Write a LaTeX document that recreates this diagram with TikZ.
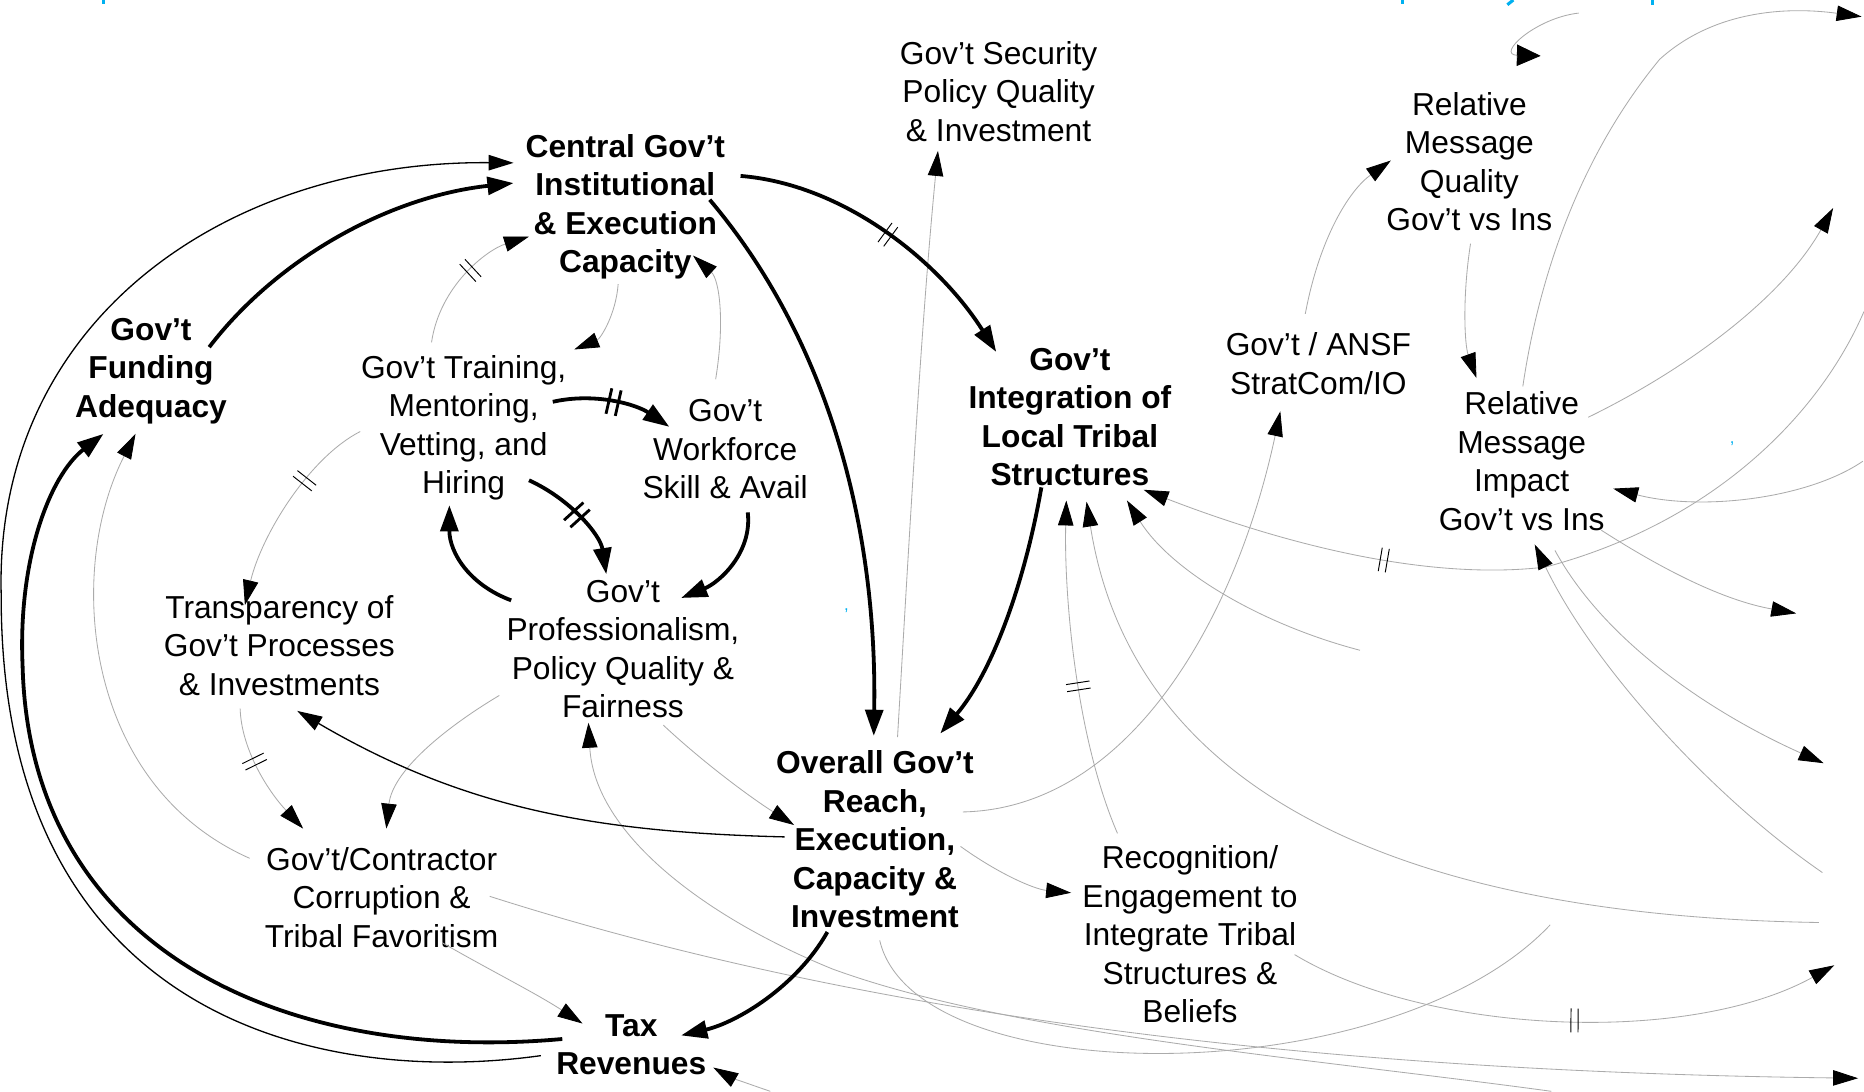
\documentclass[tikz,border=0pt]{standalone}
\usepackage{fontspec}
\setmainfont{Liberation Sans}
\usetikzlibrary{arrows.meta,decorations.markings,calc}
\definecolor{ttl}{RGB}{0,176,240}
\begin{document}
\begin{tikzpicture}[x=1pt,y=-1pt,
  every node/.style={align=center,inner sep=0pt,font=\fontsize{26.7}{32.4}\selectfont},
  keyvar/.style={font=\fontsize{26.7}{32.4}\selectfont\bfseries},
  thk/.style={line width=3.2pt,-{Triangle[length=22pt,width=15pt]}},
  thn/.style={line width=1.1pt,-{Triangle[length=21pt,width=13pt]}},
  gry/.style={draw=black!33,line width=0.7pt,-{Triangle[length=21pt,width=13pt,color=black]}},
  dbar/.style={postaction={decorate,decoration={markings,mark=at position #1 with {\draw[black,line width=0.8pt,-] (-3pt,-10pt)--(-3pt,10pt) (3pt,-10pt)--(3pt,10pt);}}}},
  dbarb/.style={postaction={decorate,decoration={markings,mark=at position #1 with {\draw[black,line width=2.4pt,-] (-4pt,-11pt)--(-4pt,11pt) (4pt,-11pt)--(4pt,11pt);}}}},
  frag/.style={draw=ttl,line width=2.6pt},
  blip/.style={text=ttl,font=\fontsize{14}{14}\selectfont}
]
\fill[white] (0,0) rectangle (1568,918);
\useasboundingbox (0,0) rectangle (1568,918);

% descender strokes of the cut-off blue title, and stray marks
\draw[frag] (87,0) -- (87,3);
\draw[frag] (1180,0) -- (1180,3);
\draw[frag] (1273,0) -- (1268,4);
\draw[frag] (1390,0) -- (1390,4);
\node[blip] (c1) at (712,514) {,};
\node[blip] (c2) at (1457,373) {,};

% nodes
\node[keyvar] (cg) at (526,174) {Central Gov’t\\Institutional\\\& Execution\\Capacity};
\node (sec) at (840,77) {Gov’t Security\\Policy Quality\\\& Investment};
\node[keyvar] (integ) at (900,351) {Gov’t\\Integration of\\Local Tribal\\Structures};
\node (strat) at (1109,306) {Gov’t / ANSF\\StratCom/IO};
\node (qual) at (1236,136) {Relative\\Message\\Quality\\Gov’t vs Ins};
\node (imp) at (1280,388) {Relative\\Message\\Impact\\Gov’t vs Ins};
\node[keyvar] (fund) at (127,312) {Gov’t\\Funding\\Adequacy};
\node (train) at (390,360) {Gov’t Training,\\Mentoring,\\Vetting, and\\Hiring};
\node (work) at (610,378) {Gov’t\\Workforce\\Skill \& Avail};
\node (transp) at (235,543) {Transparency of\\Gov’t Processes\\\& Investments};
\node (prof) at (524,546) {Gov’t\\Professionalism,\\Policy Quality \&\\Fairness};
\node[keyvar] (overall) at (736,706) {Overall Gov’t\\Reach,\\Execution,\\Capacity \&\\Investment};
\node (corr) at (321,755) {Gov’t/Contractor\\Corruption \&\\Tribal Favoritism};
\node (recog) at (1001,786) {Recognition/\\Engagement to\\Integrate Tribal\\Structures \&\\Beliefs};
\node[keyvar] (tax) at (531,879) {Tax\\Revenues};

% free ends at the edge of the crop
\coordinate (topq) at (1328,11);
\coordinate (tr1) at (1566,14);
\coordinate (r1) at (1542,175);
\coordinate (r2) at (1567,388);
\coordinate (r3) at (1568,262);
\coordinate (r4) at (1511,516);
\coordinate (r5) at (1533,734);
\coordinate (r6) at (1534,642);
\coordinate (r7) at (1530,776);
\coordinate (m1) at (1144,547);
\coordinate (r8) at (1543,812);
\coordinate (b1) at (1304,778);
\coordinate (r9) at (1563,907);
\coordinate (b2) at (1305,918);
\coordinate (b3) at (648,918);

% light connectors
\draw[gry,dbar=0.55] ($(train)+(-27,-72)$) .. controls (370,240) and (410,210) .. ($(cg)+(-81,25)$);
\draw[gry] ($(cg)+(-6,65)$) .. controls (518,265) and (505,285) .. ($(train)+(93,-66)$);
\draw[gry] ($(work)+(-8,-59)$) .. controls (610,270) and (605,235) .. ($(cg)+(57,41)$);
\draw[gry,dbar=0.35] ($(train)+(-87,3)$) .. controls (260,385) and (220,450) .. ($(transp)+(-29,-34)$);
\draw[gry,dbar=0.4] ($(transp)+(-33,53)$) .. controls (203,630) and (225,665) .. ($(corr)+(-66,-58)$);
\draw[gry] ($(prof)+(-104,39)$) .. controls (370,615) and (330,650) .. ($(corr)+(4,-58)$);
\draw[gry] ($(corr)+(-111,-33)$) .. controls (70,660) and (55,480) .. ($(fund)+(-13,53)$);
\draw[gry] ($(corr)+(51,38)$) .. controls (410,815) and (450,835) .. ($(tax)+(-41,-18)$);
\draw[gry] ($(prof)+(34,64)$) .. controls (590,640) and (630,670) .. ($(overall)+(-68,-12)$);
\draw[gry] ($(overall)+(19,-86)$) .. controls (765,450) and (775,270) .. ($(sec)+(-51,50)$);
\draw[gry] ($(overall)+(74,-23)$) .. controls (950,680) and (1040,520) .. ($(strat)+(-32,40)$);
\draw[gry] ($(strat)+(-11,-42)$) .. controls (1110,200) and (1135,160) .. ($(qual)+(-66,-1)$);
\draw[gry] ($(qual)+(1,69)$) .. controls (1230,250) and (1232,290) .. ($(imp)+(-38,-70)$);
\draw[draw=black!33,line width=0.7pt,-{Triangle[length=20pt,width=18pt,color=black]}] (topq) .. controls (1292,15) and (1258,46) .. ($(qual)+(60,-89)$);
\draw[gry] ($(imp)+(1,-63)$) .. controls (1295,230) and (1330,130) .. (1396,50) .. controls (1440,10) and (1500,5) .. (tr1);
\draw[gry] ($(imp)+(56,-37)$) .. controls (1420,310) and (1500,250) .. (r1);
\draw[gry] (r2) .. controls (1520,420) and (1430,430) .. ($(imp)+(77,23)$);
\draw[gry,dbar=0.7] (r3) .. controls (1530,350) and (1440,440) .. (1300,477) .. controls (1190,490) and (1060,450) .. ($(integ)+(62,61)$);
\draw[gry] ($(imp)+(67,58)$) .. controls (1400,480) and (1450,505) .. (r4);
\draw[gry] (r5) .. controls (1440,670) and (1340,560) .. ($(imp)+(11,70)$);
\draw[gry] ($(imp)+(28,75)$) .. controls (1350,540) and (1440,600) .. (r6);
\draw[gry] (r7) .. controls (1150,770) and (950,650) .. ($(integ)+(14,71)$);
\draw[gry] (m1) .. controls (1060,525) and (985,480) .. ($(integ)+(48,70)$);
\draw[gry,dbar=0.45] ($(recog)+(-61,-85)$) .. controls (905,620) and (895,500) .. ($(integ)+(-3,70)$);
\draw[gry,dbar=0.52] ($(recog)+(88,17)$) .. controls (1200,870) and (1420,880) .. (r8);
\draw[gry,-] ($(overall)+(4,85)$) .. controls (770,920) and (1170,920) .. (b1);
\draw[gry] ($(corr)+(91,-1)$) .. controls (650,830) and (1000,900) .. (r9);
\draw[gry] (b2) .. controls (1100,890) and (850,870) .. (700,815) .. controls (590,770) and (500,700) .. ($(prof)+(-29,62)$);
\draw[gry] (b3) .. controls (630,912) and (612,905) .. ($(tax)+(69,19)$);
\draw[gry] ($(overall)+(72,6)$) .. controls (840,735) and (870,748) .. ($(recog)+(-100,-35)$);

% thin black connectors
\draw[thn] ($(tax)+(-76,9)$) .. controls (260,915) and (0,850) .. (1,500) .. controls (-5,270) and (190,135) .. ($(cg)+(-94,-37)$);
\draw[thn] ($(overall)+(-76,-2)$) .. controls (500,700) and (390,680) .. ($(transp)+(15,55)$);

% thick connectors
\draw[thk] ($(fund)+(49,-20)$) .. controls (235,215) and (330,165) .. ($(cg)+(-94,-20)$);
\draw[thk] ($(tax)+(-58,-5)$) .. controls (240,895) and (25,800) .. (19,560) .. controls (15,470) and (42,400) .. ($(fund)+(-40,53)$);
\draw[thk] ($(cg)+(71,-6)$) .. controls (700,290) and (738,450) .. ($(overall)+(-1,-87)$);
\draw[thk,dbar=0.5] ($(cg)+(97,-26)$) .. controls (710,155) and (790,220) .. ($(integ)+(-62,-55)$);
\draw[thk] ($(integ)+(-24,59)$) .. controls (862,490) and (835,565) .. ($(overall)+(55,-89)$);
\draw[thk] ($(overall)+(-40,78)$) .. controls (670,830) and (620,860) .. ($(tax)+(42,-8)$);
\draw[thk,dbarb=0.5] ($(train)+(75,-22)$) .. controls (500,330) and (535,340) .. ($(work)+(-47,-19)$);
\draw[thk,dbarb=0.47] ($(train)+(55,44)$) .. controls (480,420) and (505,450) .. ($(prof)+(-14,-63)$);
\draw[thk] ($(work)+(19,53)$) .. controls (633,465) and (605,490) .. ($(prof)+(49,-43)$);
\draw[thk] ($(prof)+(-94,-41)$) .. controls (395,492) and (378,465) .. ($(train)+(-12,65)$);
\end{tikzpicture}
\end{document}
